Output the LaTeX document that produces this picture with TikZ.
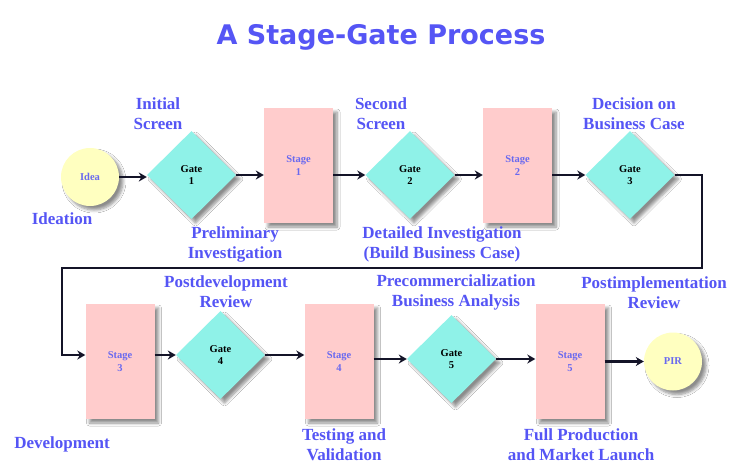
\documentclass[tikz,border=0pt]{standalone}
\usepackage{fontspec}
\setmainfont{Liberation Serif}
\newfontfamily\headfont{DejaVu Sans}
\usetikzlibrary{shapes.geometric,shadows.blur,arrows.meta}
\definecolor{labelblue}{RGB}{85,85,245}
\definecolor{stagepink}{RGB}{255,204,204}
\definecolor{gateaqua}{RGB}{143,242,232}
\definecolor{ideayellow}{RGB}{255,255,192}
\definecolor{stageblue}{RGB}{105,105,240}
\definecolor{flowink}{RGB}{20,20,40}
\begin{document}
\begin{tikzpicture}[x=1pt, y=-1pt,
	castshadow/.style={blur shadow={shadow xshift=4pt, shadow yshift=-4pt, shadow blur steps=6, shadow blur radius=3pt, shadow opacity=45}},
	stagebox/.style={rectangle, fill=stagepink, minimum width=69pt, minimum height=115pt, inner sep=0pt, castshadow, align=center, text=stageblue, font=\bfseries\fontsize{10.5}{12.5}\selectfont},
	gatebox/.style={diamond, fill=gateaqua, minimum width=89pt, minimum height=88pt, inner sep=0pt, castshadow, align=center, font=\bfseries\fontsize{10.5}{12.5}\selectfont},
	endpoint/.style={circle, fill=ideayellow, minimum size=58pt, inner sep=0pt, castshadow, text=stageblue, font=\bfseries\fontsize{10.5}{12}\selectfont},
	phase/.style={align=center, text=labelblue, font=\bfseries\fontsize{17}{20}\selectfont},
	flow/.style={draw=flowink, line width=2.6pt, -{Stealth[length=8pt, width=9pt]}}]
	\fill[white] (0,0) rectangle (750,471);
	\useasboundingbox (0,0) rectangle (750,471);
	\node[text=labelblue, font=\headfont\bfseries\fontsize{27}{32}\selectfont] (title) at (381,37) {A Stage-Gate Process};
	% first row
	\node[endpoint] (idea) at (90,177) {Idea};
	\node[gatebox] (g1) at (191.5,175) {Gate\\1};
	\node[stagebox] (s1) at (298.5,165.5) {Stage\\1};
	\node[gatebox] (g2) at (410,175) {Gate\\2};
	\node[stagebox] (s2) at (517.5,165.5) {Stage\\2};
	\node[gatebox] (g3) at (630,175) {Gate\\3};
	% second row
	\node[stagebox] (s3) at (120,361.5) {Stage\\3};
	\node[gatebox] (g4) at (220.5,355) {Gate\\4};
	\node[stagebox] (s4) at (339,361.5) {Stage\\4};
	\node[gatebox] (g5) at (451.5,359) {Gate\\5};
	\node[stagebox] (s5) at (570,361.5) {Stage\\5};
	\node[endpoint] (pir) at (673,361.5) {PIR};
	% arrows
	\draw[flow] (idea.east) -- (idea.east -| g1.west);
	\draw[flow] (g1.east) -- (g1.east -| s1.west);
	\draw[flow] (s1.east |- g2.west) -- (g2.west);
	\draw[flow] (g2.east) -- (g2.east -| s2.west);
	\draw[flow] (s2.east |- g3.west) -- (g3.west);
	\coordinate (turnright) at (702,268);
	\coordinate (turnleft) at (62,268);
	\draw[flow] (g3.east) -| (turnright) -- (turnleft) |- (s3.west |- g4);
	\draw[flow] (s3.east |- g4.west) -- (g4.west);
	\draw[flow] (g4.east) -- (g4.east -| s4.west);
	\draw[flow] (s4.east |- g5.west) -- (g5.west);
	\draw[flow] (g5.east) -- (g5.east -| s5.west);
	\draw[flow] (s5.east |- pir.west) -- (pir.west);
	% phase labels
	\node[phase] (lscreen) at (158,114) {Initial\\Screen};
	\node[phase] (lideation) at (62,219) {Ideation};
	\node[phase] (lprelim) at (235,244) {Preliminary\\Investigation};
	\node[phase] (lsecond) at (381,114) {Second\\Screen};
	\node[phase] (ldetail) at (442,244) {Detailed Investigation\\(Build Business Case)};
	\node[phase] (ldecision) at (634,114) {Decision on\\Business Case};
	\node[phase] (lpostdev) at (226,292) {Postdevelopment\\Review};
	\node[phase] (ldevel) at (62,444) {Development};
	\node[phase] (ltest) at (344,445) {Testing and\\Validation};
	\node[phase] (lprecomm) at (456,292) {Precommercialization\\Business Analysis};
	\node[phase] (lpostimp) at (654,293) {Postimplementation\\Review};
	\node[phase] (llaunch) at (581,445) {Full Production\\and Market Launch};
\end{tikzpicture}
\end{document}
